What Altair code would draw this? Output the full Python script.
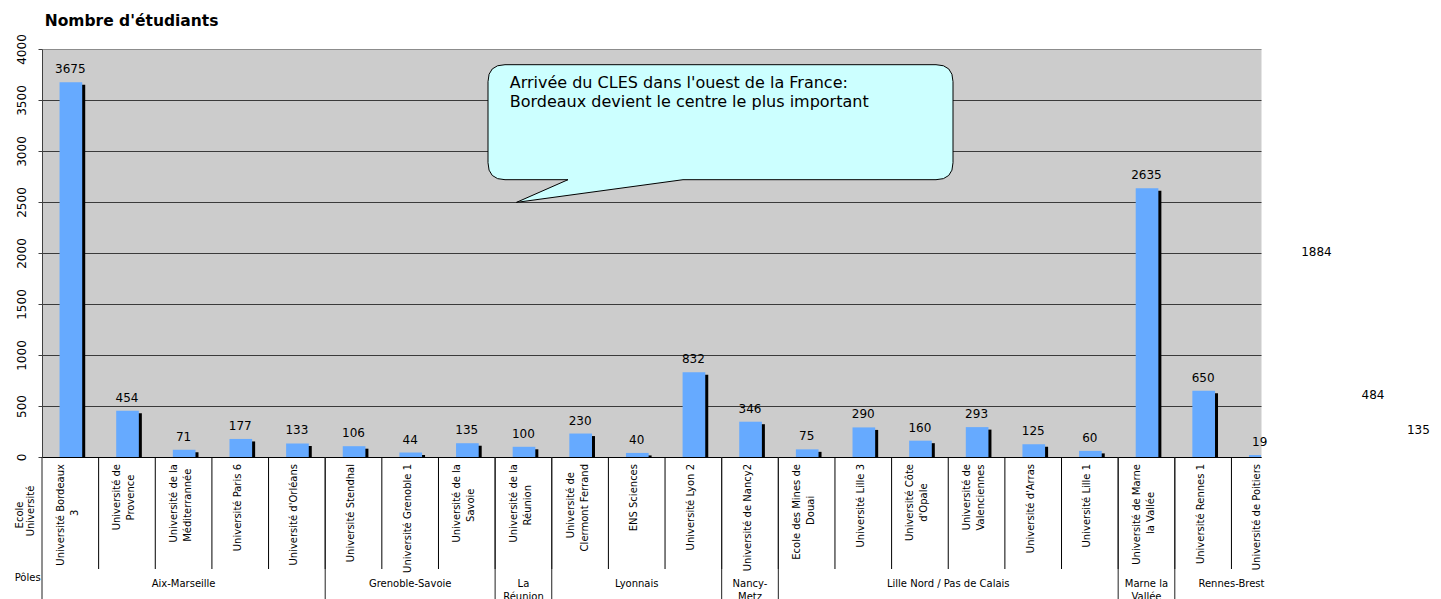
import altair as alt
import pandas as pd

# ---------------- data ----------------
categories = [
    "Université Bordeaux\n3", "Université de\nProvence", "Université de la\nMéditerrannée",
    "Université Paris 6", "Université d'Orléans", "Université Stendhal",
    "Université Grenoble 1", "Université de la\nSavoie", "Université de la\nRéunion",
    "Université de\nClermont Ferrand", "ENS Sciences", "Université Lyon 2",
    "Université de Nancy2", "Ecole des Mines de\nDouai", "Université Lille 3",
    "Université Côte\nd'Opale", "Université de\nValenciennes", "Université d'Arras",
    "Université Lille 1", "Université de Marne\nla Vallée", "Université Rennes 1",
    "Université de Poitiers",
]
values = [3675, 454, 71, 177, 133, 106, 44, 135, 100, 230, 40, 832, 346,
          75, 290, 160, 293, 125, 60, 2635, 650, 19]
# bars lying beyond the cropped right edge: only their value labels are visible
hidden_values = [1884, 484, 135]

poles = ["Aix-Marseille", "Grenoble-Savoie", "La\nRéunion", "Lyonnais", "Nancy-\nMetz",
         "Lille Nord / Pas de Calais", "Marne la\nVallée", "Rennes-Brest"]
pole_sizes = [5, 3, 1, 3, 1, 6, 1, 2]

y_ticks = [0, 500, 1000, 1500, 2000, 2500, 3000, 3500, 4000]
title_text = "Nombre d'étudiants"
callout_text = "Arrivée du CLES dans l'ouest de la France:\nBordeaux devient le centre le plus important"

# ---------------- layout constants ----------------
W, H = 1219, 408
CAT_PX = 56.64
XMAX = W / CAT_PX
FONT = "DejaVu Sans"
BLUE = "#66AAFF"

# ---------------- tables ----------------
all_values = values + hidden_values
bars_df = pd.DataFrame({"idx": list(range(len(all_values))), "value": all_values})
bars_df["label"] = bars_df["value"].astype(str)

line_rows = []
for i, name in enumerate(categories):
    lines = name.split("\n")
    longest = max(range(len(lines)), key=lambda k: len(lines[k]))
    for j, ln in enumerate(lines):
        line_rows.append({"idx": i, "text": ln, "j": j, "n": len(lines),
                          "primary": j == longest, "plen": len(lines[longest])})
lines_df = pd.DataFrame(line_rows)

starts = []
s = 0
for sz in pole_sizes:
    starts.append(s)
    s += sz
poles_df = pd.DataFrame({"pole": poles, "start": starts, "size": pole_sizes})
poles_df["center"] = poles_df["start"] + poles_df["size"] / 2

cat_sep_df = pd.DataFrame({"k": list(range(1, len(categories)))})
grp_sep_df = pd.DataFrame({"k": starts})

ann_df = pd.DataFrame({"t": [title_text]})
call_df = pd.DataFrame({"t": [callout_text]})
hdr_df = pd.DataFrame({"a": ["Ecole"], "b": ["Université"], "c": ["Pôles"]})

xscale = alt.Scale(domain=[0, XMAX], nice=False, zero=False)
yscale = alt.Scale(domain=[0, 4000], nice=False)

grid_color = {"condition": {"test": "datum.value === 4000", "value": "#8c8c8c"},
              "value": "#3a3a3a"}

yaxis = alt.Axis(values=y_ticks, format="d", title=None, labelAngle=270, labelAlign="center",
                 labelBaseline="middle", labelPadding=17, labelFont=FONT,
                 labelFontSize=12, labelColor="black", tickSize=4, tickColor="#404040",
                 domainColor="#404040", gridColor=grid_color, gridWidth=1,
                 labelFlush=False, labelOverlap=False)
xaxis = alt.Axis(labels=False, ticks=False, grid=False, title=None, domainColor="black")

base_bars = alt.Chart(bars_df).transform_calculate(
    xl="datum.idx + 0.31", xr="datum.idx + 0.71",
    # keep the outermost label inside the canvas
    xc="min(datum.idx + 0.5, 24.3)",
)

shadow = base_bars.mark_bar(color="black", clip=True, xOffset=3, x2Offset=3, yOffset=2.5).encode(
    x=alt.X("xl:Q", scale=xscale, axis=xaxis),
    x2="xr:Q",
    y=alt.Y("value:Q", scale=yscale, axis=yaxis),
    y2=alt.datum(0),
)
bars = base_bars.mark_bar(color=BLUE, clip=True).encode(
    x=alt.X("xl:Q", scale=xscale),
    x2="xr:Q",
    y=alt.Y("value:Q", scale=yscale),
    y2=alt.datum(0),
)
vlabels = base_bars.mark_text(font=FONT, fontSize=12, color="black", align="center",
                              baseline="alphabetic", dy=-9).encode(
    x=alt.X("xc:Q", scale=xscale),
    y=alt.Y("value:Q", scale=yscale),
    text="label:N",
)

# category separators and group separators below the plot
cat_sep = alt.Chart(cat_sep_df).mark_rule(color="black", strokeWidth=1).encode(
    x=alt.X("k:Q", scale=xscale), y=alt.value(H), y2=alt.value(520)
)
grp_sep = alt.Chart(grp_sep_df).mark_rule(color="#202020", strokeWidth=1).encode(
    x=alt.X("k:Q", scale=xscale), y=alt.value(H), y2=alt.value(570)
)

lines_base = alt.Chart(lines_df).transform_calculate(
    lx=f"datum.idx + 0.5 + (-2.5 + (datum.j - (datum.n - 1) / 2) * 14) / {CAT_PX}",
    ly=f"({H} - (415 + datum.plen * 5.15 / 2)) * 4000 / {H}",
)
cat_primary = lines_base.transform_filter("datum.primary").mark_text(
    font=FONT, fontSize=10, color="black", angle=270, align="right", baseline="middle"
).encode(x=alt.X("lx:Q", scale=xscale), y=alt.value(415), text="text:N")
cat_secondary = lines_base.transform_filter("!datum.primary").mark_text(
    font=FONT, fontSize=10, color="black", angle=270, align="center", baseline="middle"
).encode(x=alt.X("lx:Q", scale=xscale), y=alt.Y("ly:Q", scale=yscale), text="text:N")

pole_labels = alt.Chart(poles_df).mark_text(
    font=FONT, fontSize=10, color="black", align="center", baseline="alphabetic",
    lineBreak="\n", lineHeight=13.5
).encode(x=alt.X("center:Q", scale=xscale), y=alt.value(537.7), text="pole:N")

hdr_a = alt.Chart(hdr_df).mark_text(font=FONT, fontSize=10, color="black", angle=270,
                                   align="center", baseline="middle").encode(
    x=alt.value(-22.3), y=alt.value(466), text="a:N")
hdr_b = alt.Chart(hdr_df).mark_text(font=FONT, fontSize=10, color="black", angle=270,
                                   align="center", baseline="middle").encode(
    x=alt.value(-10.6), y=alt.value(462), text="b:N")
hdr_c = alt.Chart(hdr_df).mark_text(font=FONT, fontSize=10, color="black", align="left",
                                   baseline="alphabetic").encode(
    x=alt.value(-27.3), y=alt.value(531.7), text="c:N")

title = alt.Chart(ann_df).mark_text(font=FONT, fontSize=15.5, fontWeight="bold", color="black",
                                    align="left", baseline="alphabetic").encode(
    x=alt.value(2.7), y=alt.value(-23.3), text="t:N")

bubble_path = ("M0,0 L51.6,-22.7 L-11.4,-22.7 Q-28.4,-22.7 -28.4,-39.7 L-28.4,-120.7 "
               "Q-28.4,-137.7 -11.4,-137.7 L419.6,-137.7 Q436.6,-137.7 436.6,-120.7 "
               "L436.6,-39.7 Q436.6,-22.7 419.6,-22.7 L166.6,-22.7 Z")
bubble = alt.Chart(call_df).mark_point(shape=bubble_path, size=4, filled=True, fill="#CCFFFF",
                                       stroke="black", strokeWidth=1, opacity=1,
                                       fillOpacity=1).encode(
    x=alt.value(474.4), y=alt.value(153.4))
bubble_text = alt.Chart(call_df).mark_text(font=FONT, fontSize=16, color="black", align="left",
                                           baseline="alphabetic", lineBreak="\n",
                                           lineHeight=19.5).encode(
    x=alt.value(467.7), y=alt.value(38.7), text="t:N")

chart = alt.layer(
    shadow, bars, vlabels, cat_sep, grp_sep, cat_primary, cat_secondary, pole_labels,
    hdr_a, hdr_b, hdr_c, title, bubble, bubble_text
).properties(
    width=W, height=H,
    autosize=alt.AutoSizeParams(type="none"),
    padding={"left": 34, "top": 41, "right": 172, "bottom": 142},
).configure_view(fill="#CCCCCC", stroke="transparent")

chart.save("out.html", embed_options={"renderer": "svg", "actions": False})
